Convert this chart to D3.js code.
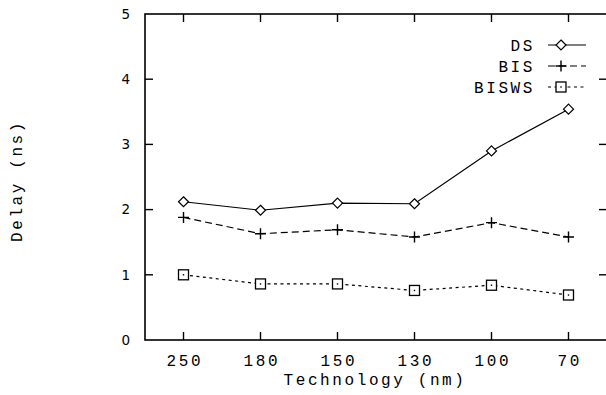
<!DOCTYPE html>
<html><head><meta charset="utf-8">
<script src="https://cdn.jsdelivr.net/npm/d3@7"></script>
<style>
html,body{margin:0;padding:0;background:#fff;}
svg{display:block;}
.mono{font-family:"Liberation Mono","Courier New",monospace;font-size:16px;letter-spacing:2.6px;fill:#000;}
.sans{font-family:"DejaVu Sans",Verdana,sans-serif;font-size:13.5px;fill:#000;}
</style></head>
<body>
<script>
const categories = ["250","180","150","130","100","70"];
const yTicks = [0,1,2,3,4,5];
const dsValues    = [2.12, 1.99, 2.10, 2.09, 2.90, 3.54];
const bisValues   = [1.88, 1.63, 1.69, 1.58, 1.80, 1.58];
const biswsValues = [1.00, 0.86, 0.86, 0.76, 0.84, 0.69];
const seriesNames = ["DS","BIS","BISWS"];

const W = 606, H = 395;
const pLeft = 145, pRight = 607, pTop = 14, pBottom = 340;

const svg = d3.select("body").append("svg").attr("width", W).attr("height", H);

const x = d3.scalePoint().domain(categories).range([pLeft, pRight]).padding(0.5);
const y = d3.scaleLinear().domain([0,5]).range([pBottom, pTop]);

svg.append("rect").attr("x", pLeft).attr("y", pTop).attr("width", pRight-pLeft).attr("height", pBottom-pTop)
  .attr("fill","none").attr("stroke","#000").attr("stroke-width",1.6);

const tl = 8;
categories.forEach(c => {
  svg.append("line").attr("x1", x(c)).attr("x2", x(c)).attr("y1", pBottom).attr("y2", pBottom - tl).attr("stroke","#000").attr("stroke-width",1.4);
  svg.append("line").attr("x1", x(c)).attr("x2", x(c)).attr("y1", pTop).attr("y2", pTop + tl).attr("stroke","#000").attr("stroke-width",1.4);
  svg.append("text").attr("class","mono").attr("x", x(c) + 1.3).attr("y", 366).attr("text-anchor","middle").text(c);
});
yTicks.forEach(t => {
  if (t > 0 && t < 5) {
    svg.append("line").attr("x1", pLeft).attr("x2", pLeft + tl).attr("y1", y(t)).attr("y2", y(t)).attr("stroke","#000").attr("stroke-width",1.4);
    svg.append("line").attr("x1", pRight).attr("x2", pRight - tl).attr("y1", y(t)).attr("y2", y(t)).attr("stroke","#000").attr("stroke-width",1.4);
  }
  svg.append("text").attr("class","sans").attr("x", 130).attr("y", y(t)).attr("dy","0.36em").attr("text-anchor","end").text(t);
});

svg.append("text").attr("class","mono").attr("x", 375).attr("y", 385).attr("text-anchor","middle").text("Technology (nm)");
svg.append("text").attr("class","mono").attr("transform","translate(22,181) rotate(-90)").attr("text-anchor","middle").text("Delay (ns)");

function diamond(g, cx, cy) {
  const r = 5;
  g.append("path").attr("d", `M${cx},${cy-r}L${cx+r},${cy}L${cx},${cy+r}L${cx-r},${cy}Z`)
    .attr("fill","#fff").attr("stroke","#000").attr("stroke-width",1.2);
}
function plus(g, cx, cy) {
  const r = 5.5;
  g.append("path").attr("d", `M${cx-r},${cy}H${cx+r}M${cx},${cy-r}V${cy+r}`)
    .attr("fill","none").attr("stroke","#000").attr("stroke-width",1.4);
}
function square(g, cx, cy) {
  const r = 5;
  g.append("rect").attr("x", cx-r).attr("y", cy-r).attr("width", 2*r).attr("height", 2*r)
    .attr("fill","#fff").attr("stroke","#000").attr("stroke-width",1.3);
  g.append("rect").attr("x", cx-0.7).attr("y", cy-0.7).attr("width",1.4).attr("height",1.4).attr("fill","#000");
}

const series = [
  {name: seriesNames[0], values: dsValues, dash: null, marker: diamond},
  {name: seriesNames[1], values: bisValues, dash: "7,4", marker: plus},
  {name: seriesNames[2], values: biswsValues, dash: "3,3.5", marker: square}
];

const line = d3.line().x((d,i) => x(categories[i])).y(d => y(d));

series.forEach((s, si) => {
  const g = svg.append("g");
  g.append("path").attr("d", line(s.values)).attr("fill","none").attr("stroke","#000")
    .attr("stroke-width",1.2).attr("stroke-dasharray", s.dash);
  s.values.forEach((v,i) => s.marker(g, x(categories[i]), y(v)));
  const ly = 45 + si * 21;
  svg.append("text").attr("class","mono").attr("x", 535).attr("y", ly).attr("dy","0.35em").attr("text-anchor","end").text(s.name);
  g.append("line").attr("x1", 548).attr("x2", 586).attr("y1", ly).attr("y2", ly).attr("stroke","#000")
    .attr("stroke-width",1.2).attr("stroke-dasharray", s.dash);
  s.marker(g, 561, ly);
});
</script>
</body></html>
